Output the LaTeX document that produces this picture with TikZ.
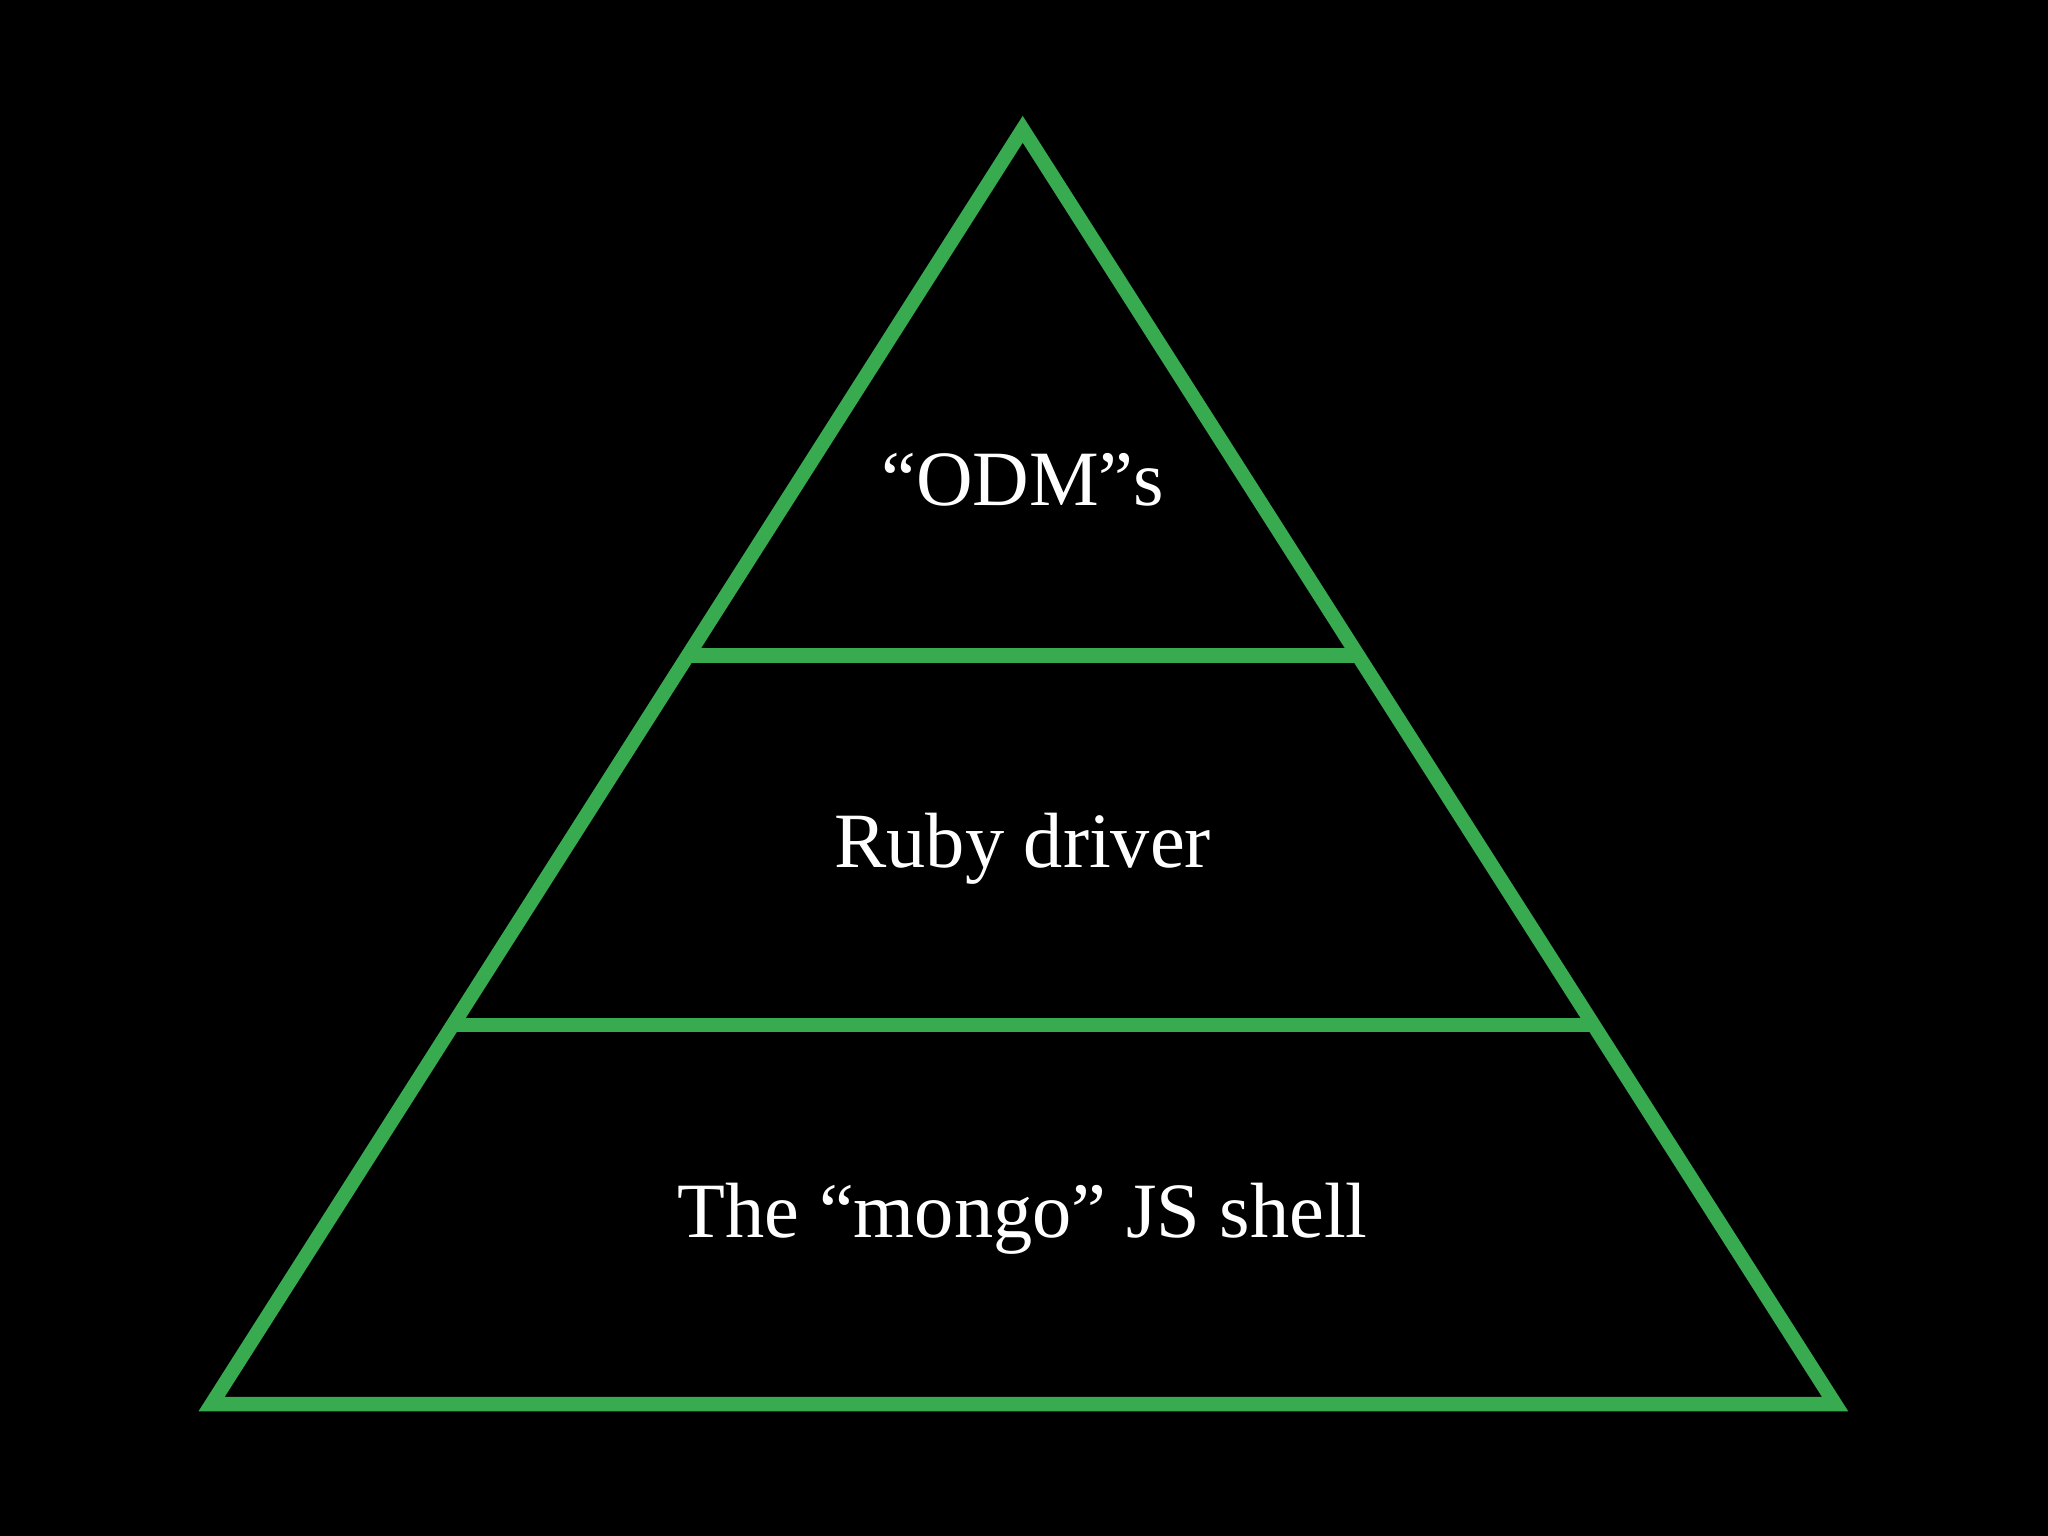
\documentclass[tikz,border=0pt]{standalone}
\usepackage{fontspec}
\setmainfont{Liberation Serif}
\definecolor{pg}{RGB}{56,170,80}
\tikzset{edge/.style={draw=pg,line width=5.5pt,line join=miter},
lbl/.style={text=white,font=\fontsize{30}{36}\selectfont}}
\begin{document}
\begin{tikzpicture}[x=0.5pt,y=-0.5pt]
\fill[black] (0,0) rectangle (1568,1176);
\useasboundingbox (0,0) rectangle (1568,1176);
\coordinate (top) at (783,99);
\coordinate (bl) at (162,1075);
\coordinate (br) at (1405,1075);
\coordinate (l1) at (526.6,502);
\coordinate (r1) at (1040,502);
\coordinate (l2) at (346.5,785);
\coordinate (r2) at (1220,785);
\draw[edge] (top) -- (bl) -- (br) -- cycle;
\draw[edge] (l1) -- (r1);
\draw[edge] (l2) -- (r2);
\node[lbl] (a) at (783,367) {“ODM”s};
\node[lbl] (b) at (783,650) {Ruby driver};
\node[lbl] (c) at (783,933) {The “mongo” JS shell};
\end{tikzpicture}
\end{document}
